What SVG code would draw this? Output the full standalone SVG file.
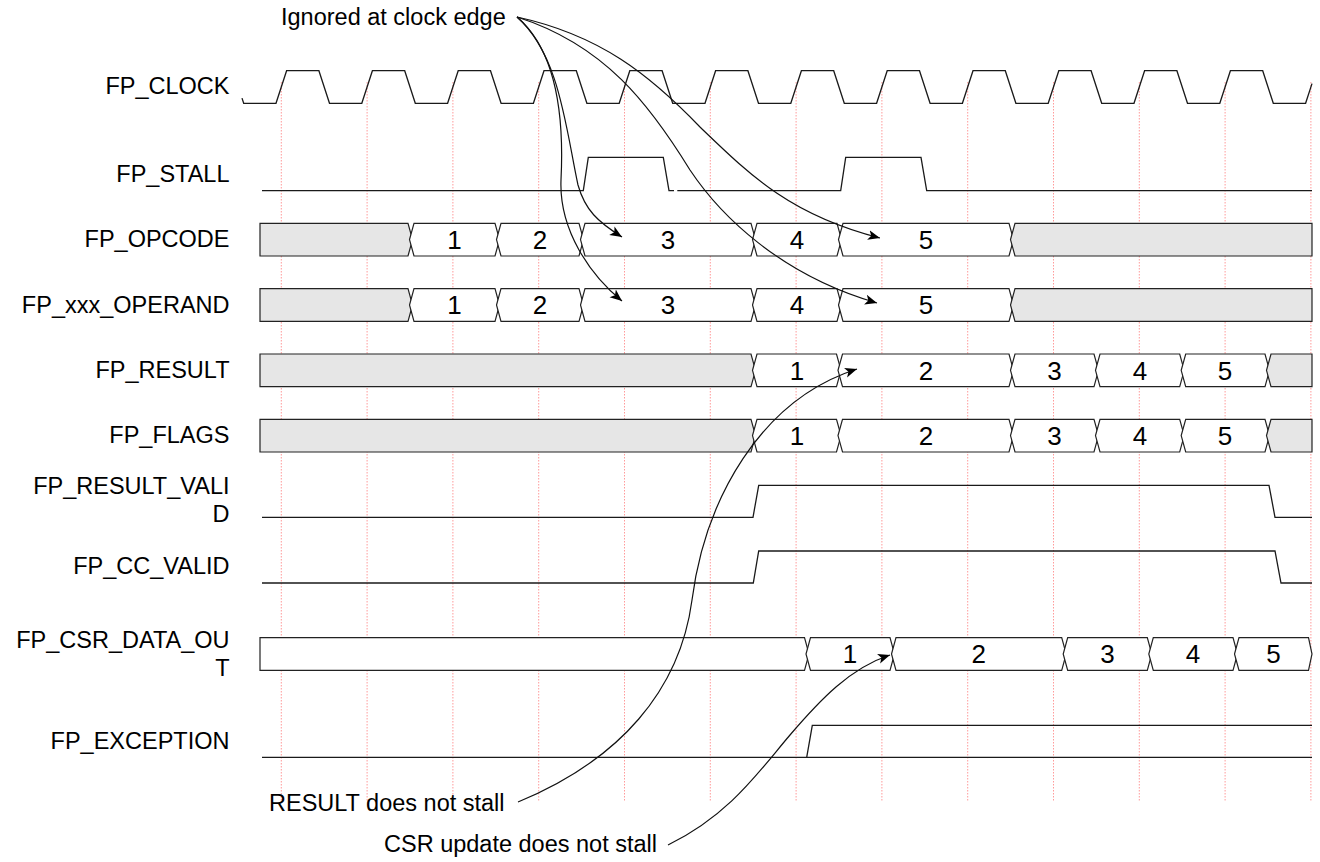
<svg xmlns="http://www.w3.org/2000/svg" width="1320" height="862" viewBox="0 0 1320 862">
<style>
text{font-family:"Liberation Sans",Arial,sans-serif;fill:#000}
.lbl{font-size:23.5px;text-anchor:end}
.ann{font-size:23.5px}
.dig{font-size:26px;text-anchor:middle}
.wave{fill:none;stroke:#1a1a1a;stroke-width:1.3}
.bus{fill:#fff;stroke:#222;stroke-width:1.2}
.bus.g{fill:#e6e6e6}
.grid{stroke:#ff6f6f;stroke-opacity:.7;stroke-width:1;stroke-dasharray:1.5 1.5}
.conn{fill:none;stroke:#111;stroke-width:1.2}
</style>
<defs>
<marker id="arr" markerUnits="userSpaceOnUse" markerWidth="14" markerHeight="12" refX="12" refY="5" orient="auto" viewBox="0 0 14 10">
<path d="M0,0 L12,5 L0,10 L3,5 Z" fill="#000"/>
</marker>
</defs>
<rect width="1320" height="862" fill="#fff"/>
<g id="grid">
<line class="grid" x1="281.3" y1="82" x2="281.3" y2="802"/>
<line class="grid" x1="367.1" y1="82" x2="367.1" y2="802"/>
<line class="grid" x1="452.9" y1="82" x2="452.9" y2="802"/>
<line class="grid" x1="538.7" y1="82" x2="538.7" y2="802"/>
<line class="grid" x1="624.5" y1="82" x2="624.5" y2="802"/>
<line class="grid" x1="710.3" y1="82" x2="710.3" y2="802"/>
<line class="grid" x1="796.1" y1="82" x2="796.1" y2="802"/>
<line class="grid" x1="881.9" y1="82" x2="881.9" y2="802"/>
<line class="grid" x1="967.7" y1="82" x2="967.7" y2="802"/>
<line class="grid" x1="1053.5" y1="82" x2="1053.5" y2="802"/>
<line class="grid" x1="1139.3" y1="82" x2="1139.3" y2="802"/>
<line class="grid" x1="1225.1" y1="82" x2="1225.1" y2="802"/>
<line class="grid" x1="1310.9" y1="82" x2="1310.9" y2="802"/>
</g>
<g id="labels">
<text class="lbl" x="229.5" y="94.3">FP_CLOCK</text>
<text class="lbl" x="229.5" y="181.7">FP_STALL</text>
<text class="lbl" x="229.5" y="246.7">FP_OPCODE</text>
<text class="lbl" x="229.5" y="313.3">FP_xxx_OPERAND</text>
<text class="lbl" x="229.5" y="378.3">FP_RESULT</text>
<text class="lbl" x="229.5" y="443.3">FP_FLAGS</text>
<text class="lbl" x="229.5" y="494">FP_RESULT_VALI</text>
<text class="lbl" x="229.5" y="522.3">D</text>
<text class="lbl" x="229.5" y="574">FP_CC_VALID</text>
<text class="lbl" x="229.5" y="647.5">FP_CSR_DATA_OU</text>
<text class="lbl" x="229.5" y="676">T</text>
<text class="lbl" x="229.5" y="749">FP_EXCEPTION</text>
</g>
<g id="fp_clock">
<path class="wave" d="M242,98.1 L243.7,103.3 L276,103.3 L286.6,70.7 L318.9,70.7 L329.5,103.3 L361.8,103.3 L372.4,70.7 L404.7,70.7 L415.3,103.3 L447.6,103.3 L458.2,70.7 L490.5,70.7 L501.1,103.3 L533.4,103.3 L544,70.7 L576.3,70.7 L586.9,103.3 L619.2,103.3 L629.8,70.7 L662.1,70.7 L672.7,103.3 L705,103.3 L715.6,70.7 L747.9,70.7 L758.5,103.3 L790.8,103.3 L801.4,70.7 L833.7,70.7 L844.3,103.3 L876.6,103.3 L887.2,70.7 L919.5,70.7 L930.1,103.3 L962.4,103.3 L973,70.7 L1005.3,70.7 L1015.9,103.3 L1048.2,103.3 L1058.8,70.7 L1091.1,70.7 L1101.7,103.3 L1134,103.3 L1144.6,70.7 L1176.9,70.7 L1187.5,103.3 L1219.8,103.3 L1230.4,70.7 L1262.7,70.7 L1273.3,103.3 L1305.6,103.3 L1312,83.6"/>
</g>
<g id="fp_stall">
<path class="wave" d="M262,190.7 L583.3,190.7 L588.3,157.3 L663.3,157.3 L669,190.7 L674,190.7 M677.3,190.7 L840.7,190.7 L845.7,157.3 L921,157.3 L926.7,190.7 L1312,190.7"/>
</g>
<g id="fp_opcode" transform="translate(0,223.3)">
<polygon class="bus g" points="260,0 408,0 412.5,16.3 408,32.7 260,32.7"/>
<polygon class="bus" points="414,0 495,0 499.5,16.3 495,32.7 414,32.7 409.5,16.3"/>
<polygon class="bus" points="501,0 579,0 583.5,16.3 579,32.7 501,32.7 496.5,16.3"/>
<polygon class="bus" points="585,0 751,0 755.5,16.3 751,32.7 585,32.7 580.5,16.3"/>
<polygon class="bus" points="757,0 837,0 841.5,16.3 837,32.7 757,32.7 752.5,16.3"/>
<polygon class="bus" points="843,0 1009,0 1013.5,16.3 1009,32.7 843,32.7 838.5,16.3"/>
<polygon class="bus g" points="1015,0 1312,0 1312,32.7 1015,32.7 1010.5,16.3"/>
<text class="dig" x="454.5" y="25.6">1</text>
<text class="dig" x="540" y="25.6">2</text>
<text class="dig" x="668" y="25.6">3</text>
<text class="dig" x="797" y="25.6">4</text>
<text class="dig" x="926" y="25.6">5</text>
</g>
<g id="fp_xxx_operand" transform="translate(0,288.7)">
<polygon class="bus g" points="260,0 408,0 412.5,16.3 408,32.7 260,32.7"/>
<polygon class="bus" points="414,0 495,0 499.5,16.3 495,32.7 414,32.7 409.5,16.3"/>
<polygon class="bus" points="501,0 579,0 583.5,16.3 579,32.7 501,32.7 496.5,16.3"/>
<polygon class="bus" points="585,0 751,0 755.5,16.3 751,32.7 585,32.7 580.5,16.3"/>
<polygon class="bus" points="757,0 837,0 841.5,16.3 837,32.7 757,32.7 752.5,16.3"/>
<polygon class="bus" points="843,0 1009,0 1013.5,16.3 1009,32.7 843,32.7 838.5,16.3"/>
<polygon class="bus g" points="1015,0 1312,0 1312,32.7 1015,32.7 1010.5,16.3"/>
<text class="dig" x="454.5" y="25.6">1</text>
<text class="dig" x="540" y="25.6">2</text>
<text class="dig" x="668" y="25.6">3</text>
<text class="dig" x="797" y="25.6">4</text>
<text class="dig" x="926" y="25.6">5</text>
</g>
<g id="fp_result" transform="translate(0,354)">
<polygon class="bus g" points="260,0 751,0 755.5,16.3 751,32.7 260,32.7"/>
<polygon class="bus" points="757,0 836.5,0 841,16.3 836.5,32.7 757,32.7 752.5,16.3"/>
<polygon class="bus" points="842.5,0 1009,0 1013.5,16.3 1009,32.7 842.5,32.7 838,16.3"/>
<polygon class="bus" points="1015,0 1094,0 1098.5,16.3 1094,32.7 1015,32.7 1010.5,16.3"/>
<polygon class="bus" points="1100,0 1179.7,0 1184.2,16.3 1179.7,32.7 1100,32.7 1095.5,16.3"/>
<polygon class="bus" points="1185.7,0 1265,0 1269.5,16.3 1265,32.7 1185.7,32.7 1181.2,16.3"/>
<polygon class="bus g" points="1271,0 1312,0 1312,32.7 1271,32.7 1266.5,16.3"/>
<text class="dig" x="797" y="25.6">1</text>
<text class="dig" x="926" y="25.6">2</text>
<text class="dig" x="1054.5" y="25.6">3</text>
<text class="dig" x="1140" y="25.6">4</text>
<text class="dig" x="1225" y="25.6">5</text>
</g>
<g id="fp_flags" transform="translate(0,419.3)">
<polygon class="bus g" points="260,0 751,0 755.5,16.3 751,32.7 260,32.7"/>
<polygon class="bus" points="757,0 836.5,0 841,16.3 836.5,32.7 757,32.7 752.5,16.3"/>
<polygon class="bus" points="842.5,0 1009,0 1013.5,16.3 1009,32.7 842.5,32.7 838,16.3"/>
<polygon class="bus" points="1015,0 1094,0 1098.5,16.3 1094,32.7 1015,32.7 1010.5,16.3"/>
<polygon class="bus" points="1100,0 1179.7,0 1184.2,16.3 1179.7,32.7 1100,32.7 1095.5,16.3"/>
<polygon class="bus" points="1185.7,0 1265,0 1269.5,16.3 1265,32.7 1185.7,32.7 1181.2,16.3"/>
<polygon class="bus g" points="1271,0 1312,0 1312,32.7 1271,32.7 1266.5,16.3"/>
<text class="dig" x="797" y="25.6">1</text>
<text class="dig" x="926" y="25.6">2</text>
<text class="dig" x="1054.5" y="25.6">3</text>
<text class="dig" x="1140" y="25.6">4</text>
<text class="dig" x="1225" y="25.6">5</text>
</g>
<g id="fp_result_valid">
<path class="wave" d="M262,517.3 L753,517.3 L758.7,485.3 L1269,485.3 L1275,517.3 L1312,517.3"/>
</g>
<g id="fp_cc_valid">
<path class="wave" d="M262,583 L753.3,583 L758.7,551 L1275,551 L1281,583 L1312,583"/>
</g>
<g id="fp_csr_data_out" transform="translate(0,637.7)">
<polygon class="bus" points="260,0 804.5,0 809,16.3 804.5,32.7 260,32.7"/>
<polygon class="bus" points="810.5,0 890,0 894.5,16.3 890,32.7 810.5,32.7 806,16.3"/>
<polygon class="bus" points="896,0 1061.7,0 1066.2,16.3 1061.7,32.7 896,32.7 891.5,16.3"/>
<polygon class="bus" points="1067.7,0 1147.3,0 1151.8,16.3 1147.3,32.7 1067.7,32.7 1063.2,16.3"/>
<polygon class="bus" points="1153.3,0 1233,0 1237.5,16.3 1233,32.7 1153.3,32.7 1148.8,16.3"/>
<polygon class="bus" points="1239,0 1308.5,0 1312,16.3 1308.5,32.7 1239,32.7 1234.5,16.3"/>
<text class="dig" x="850" y="25.6">1</text>
<text class="dig" x="978.8" y="25.6">2</text>
<text class="dig" x="1107.5" y="25.6">3</text>
<text class="dig" x="1193" y="25.6">4</text>
<text class="dig" x="1273.5" y="25.6">5</text>
</g>
<g id="fp_exception">
<path class="wave" d="M262,757.3 L1312,757.3 M723,757.3 L806.7,757.3 L812.3,725.3 L1312,725.3"/>
</g>
<g id="annotations">
<text class="ann" x="281" y="25">Ignored at clock edge</text>
<text class="ann" x="269" y="810.7">RESULT does not stall</text>
<text class="ann" x="384" y="852">CSR update does not stall</text>
</g>
<g id="connectors">
<path class="conn" marker-end="url(#arr)" d="M517,17 C560,55 566,130 578,185 C585,210 598,222 622,237"/>
<path class="conn" marker-end="url(#arr)" d="M517,17 C558,52 564,120 561,180 C559,230 590,275 622,301"/>
<path class="conn" marker-end="url(#arr)" d="M517,17 C600,35 650,75 700,127 C750,175 790,215 880,238"/>
<path class="conn" marker-end="url(#arr)" d="M517,17 C605,45 650,105 690,170 C720,215 780,275 877,303"/>
<path class="conn" marker-end="url(#arr)" d="M518,802 C620,760 680,690 692,600 C705,500 760,400 857,369"/>
<path class="conn" marker-end="url(#arr)" d="M668,845 C730,815 760,770 790,735 C820,700 850,668 890,655"/>
</g>
</svg>
